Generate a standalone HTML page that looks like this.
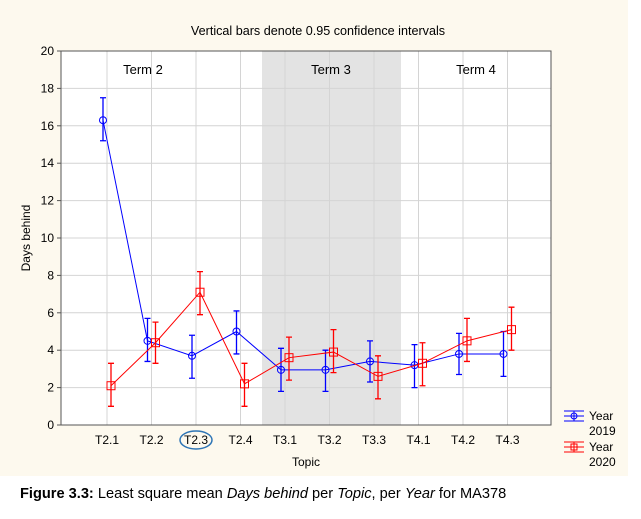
<!DOCTYPE html>
<html><head><meta charset="utf-8"><style>
body{margin:0;background:#fff;font-family:"Liberation Sans",Arial,sans-serif}
</style></head><body>
<svg width="641" height="514" xmlns="http://www.w3.org/2000/svg" font-family="Liberation Sans, Arial, sans-serif">
<rect x="0" y="0" width="628" height="476" fill="#fdf9ee"/>
<text x="318" y="35" font-size="12.6" text-anchor="middle">Vertical bars denote 0.95 confidence intervals</text>
<g id="plot"></g>
<text x="20" y="498" font-size="14.6"><tspan font-weight="bold">Figure 3.3:</tspan> Least square mean <tspan font-style="italic">Days behind</tspan> per <tspan font-style="italic">Topic</tspan>, per <tspan font-style="italic">Year</tspan> for MA378</text>
</svg>
<script>
const categories=["T2.1","T2.2","T2.3","T2.4","T3.1","T3.2","T3.3","T4.1","T4.2","T4.3"];
const y2019=[16.3,4.5,3.7,5.0,2.95,2.95,3.4,3.2,3.8,3.8];
const y2019lo=[15.2,3.4,2.5,3.8,1.8,1.8,2.3,2.0,2.7,2.6];
const y2019hi=[17.5,5.7,4.8,6.1,4.1,4.0,4.5,4.3,4.9,5.0];
const y2020=[2.1,4.4,7.1,2.2,3.6,3.9,2.6,3.3,4.5,5.1];
const y2020lo=[1.0,3.3,5.9,1.0,2.4,2.8,1.4,2.1,3.4,4.0];
const y2020hi=[3.3,5.5,8.2,3.3,4.7,5.1,3.7,4.4,5.7,6.3];
const yTicks=[0,2,4,6,8,10,12,14,16,18,20];
const terms=["Term 2","Term 3","Term 4"];
const NS="http://www.w3.org/2000/svg";
const g=document.getElementById('plot');
const L=61,R=551,T=51,B=425;
const y=v=>B-(v/20)*(B-T);
const x=i=>107+i*44.5;
function mk(t,a,p){const e=document.createElementNS(NS,t);for(const k in a)e.setAttribute(k,a[k]);(p||g).appendChild(e);return e;}
let e;
e=mk('rect',{x:L,y:T,width:R-L,height:B-T,fill:'#fff'});


e=mk('rect',{x:262,y:T,width:139,height:B-T,fill:'#e3e3e3'});


yTicks.forEach(v=>{
 e=mk('line',{x1:L,x2:R,y1:y(v),y2:y(v),stroke:'#d4d4d4','stroke-width':1});
 
 
 e=mk('line',{x1:L-4,x2:L,y1:y(v),y2:y(v),stroke:'#555'});
 
 
 e=mk('text',{x:L-7,y:y(v)+4,'font-size':12,'text-anchor':'end'});e.textContent=v;
 
 
});
categories.forEach((c,i)=>{
 e=mk('line',{x1:x(i),x2:x(i),y1:T,y2:B,stroke:'#d4d4d4'});
 
 
 e=mk('text',{x:x(i),y:B+19,'font-size':12,'text-anchor':'middle'});e.textContent=c;
 
 
});
e=mk('ellipse',{cx:x(2),cy:B+15,rx:16,ry:9,fill:'none',stroke:'#2e75b6','stroke-width':1.5});


e=mk('rect',{x:L,y:T,width:R-L,height:B-T,fill:'none',stroke:'#555'});


[143,331,476].forEach((tx,i)=>{
 e=mk('text',{x:tx,y:74,'font-size':13,'text-anchor':'middle'});e.textContent=terms[i];
 
 
});
e=mk('text',{x:306,y:466,'font-size':12,'text-anchor':'middle'});e.textContent='Topic';


e=mk('text',{x:30,y:238,'font-size':12,'text-anchor':'middle',transform:'rotate(-90 30 238)'});e.textContent='Days behind';


function series(vals,lo,hi,col,off,shape,name){
 const s=mk('g',{});
 
 
 e=mk('polyline',{points:vals.map((v,i)=>(x(i)+off)+','+y(v)).join(' '),fill:'none',stroke:col,'stroke-width':1},s);
 
 
 vals.forEach((v,i)=>{
  const cx=x(i)+off;
  e=mk('path',{d:`M${cx-3},${y(hi[i])}H${cx+3}M${cx},${y(hi[i])}V${y(lo[i])}M${cx-3},${y(lo[i])}H${cx+3}`,stroke:col,fill:'none','stroke-width':1.3},s);
  
  
  if(shape==='c')e=mk('circle',{cx:cx,cy:y(v),r:3.5,fill:'none',stroke:col},s);
  else e=mk('rect',{x:cx-4,y:y(v)-4,width:8,height:8,fill:'none',stroke:col},s);
  
  
 });
}
series(y2019,y2019lo,y2019hi,'#0000ff',-4,'c','series-2019');
series(y2020,y2020lo,y2020hi,'#ff0000',4,'s','series-2020');
function leg(yy,col,shape,label,name){
 const s=mk('g',{});
 
 
 mk('path',{d:`M564,${yy-5}H584M564,${yy+5}H584M564,${yy}H584M574,${yy-5}V${yy+5}`,stroke:col,fill:'none'},s);
 if(shape==='c')mk('circle',{cx:574,cy:yy,r:3,fill:'none',stroke:col},s);else mk('rect',{x:571,y:yy-3,width:6,height:6,fill:'none',stroke:col},s);
 const t=mk('text',{x:589,y:yy+4,'font-size':12},s);t.textContent='Year';
 const t2=mk('text',{x:589,y:yy+19,'font-size':12},s);t2.textContent=label;
}
leg(416,'#0000ff','c','2019','legend-2019');
leg(447,'#ff0000','s','2020','legend-2020');
</script>
</body></html>
